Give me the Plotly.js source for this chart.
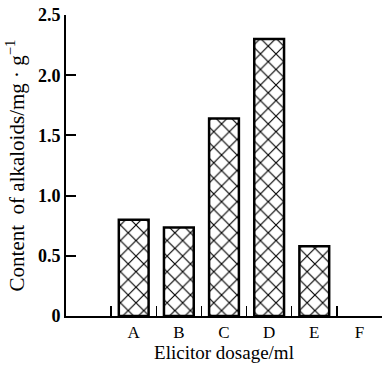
<!DOCTYPE html>
<html>
<head>
<meta charset="utf-8">
<script src="https://cdn.plot.ly/plotly-3.0.1.min.js"></script>
<style>html,body{margin:0;padding:0;background:#fff;}#chart{width:382px;height:366px;}</style>
</head>
<body>
<div id="chart"></div>
<script>
const categories = ["A", "B", "C", "D", "E", "F"];
const values = [0.80, 0.735, 1.64, 2.30, 0.58, 0];
const yTickVals = [0, 0.5, 1.0, 1.5, 2.0, 2.5];
const yTickText = ["0", "0.5", "1.0", "1.5", "2.0", "2.5"];

const font = {family: "Liberation Serif, Times New Roman, serif", color: "#000"};
// no outline for empty (zero) bars
const lineWidths = values.map(v => v > 0 ? 2.5 : 0);

const trace = {
  type: "bar",
  x: categories,
  y: values,
  width: 0.66,
  marker: {
    color: "#fff",
    line: {color: "#000", width: lineWidths},
    pattern: {shape: "x", fgcolor: "#000", bgcolor: "#fff", size: 11, solidity: 0.2}
  },
  hoverinfo: "none"
};

const layout = {
  width: 382, height: 366,
  margin: {l: 66, r: 0, t: 15, b: 50},
  paper_bgcolor: "#fff", plot_bgcolor: "#fff",
  showlegend: false,
  font: Object.assign({size: 16}, font),
  xaxis: {
    type: "category",
    range: [-1.5, 5.5],
    showline: true, linecolor: "#000", linewidth: 2,
    ticks: "inside", tickson: "boundaries", ticklen: 10, tickwidth: 1.5, tickcolor: "#000",
    showgrid: false, zeroline: false,
    tickfont: Object.assign({size: 17}, font),
    title: {text: "Elicitor dosage/ml", font: Object.assign({size: 19}, font), standoff: 1}
  },
  yaxis: {
    range: [0, 2.5],
    tickmode: "array", tickvals: yTickVals, ticktext: yTickText,
    showline: true, linecolor: "#000", linewidth: 2,
    ticks: "inside", ticklen: 10, tickwidth: 2, tickcolor: "#000",
    showgrid: false, zeroline: false,
    tickfont: Object.assign({size: 18, weight: "bold"}, font),
    title: {text: "Content  of alkaloids/mg · g<sup>−1</sup>", font: Object.assign({size: 21}, font), standoff: 8}
  }
};

Plotly.newPlot("chart", [trace], layout, {displayModeBar: false, staticPlot: true});
</script>
</body>
</html>
